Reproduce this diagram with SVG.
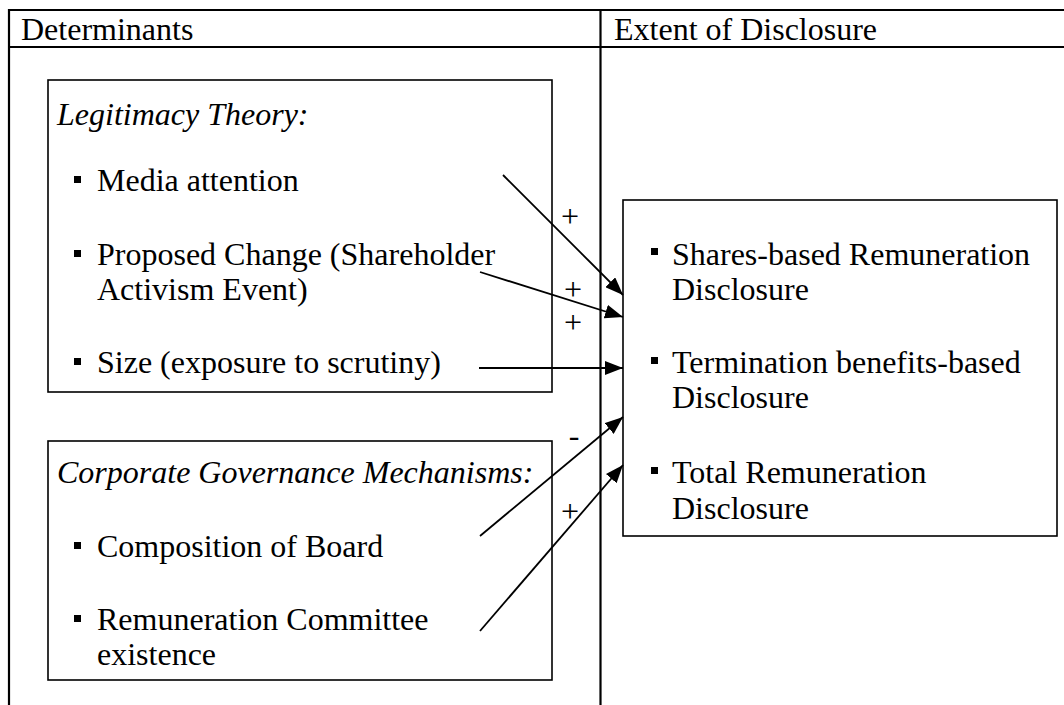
<svg xmlns="http://www.w3.org/2000/svg" width="1064" height="705" viewBox="0 0 1064 705">
  <style>
    .t { font-family: "Liberation Serif", "Times New Roman", serif; font-size: 32px; fill: #000; }
    .i { font-style: italic; }
    .sign { font-family: "Liberation Serif", "Times New Roman", serif; font-size: 32px; fill: #000; text-anchor: middle; }
    .grid { stroke: #000; stroke-width: 2.2; fill: none; }
    .box { stroke: #000; stroke-width: 1.6; fill: none; }
    .bullet { fill: #000; }
    .conn { stroke: #000; stroke-width: 1.8; fill: none; marker-end: url(#arrow); }
  </style>
  <defs>
    <marker id="arrow" markerUnits="userSpaceOnUse" markerWidth="19" markerHeight="14" refX="18" refY="7" orient="auto">
      <path d="M0,0 L18,7 L0,14 Z" fill="#000"/>
    </marker>
  </defs>

  <rect width="1064" height="705" fill="#fff"/>

  <!-- table frame -->
  <g id="table">
    <line class="grid" x1="8" y1="10" x2="1064" y2="10"/>
    <line class="grid" x1="8" y1="47" x2="1064" y2="47"/>
    <line class="grid" x1="9" y1="9" x2="9" y2="705"/>
    <line class="grid" x1="600.5" y1="9" x2="600.5" y2="705"/>
    <text class="t" x="21" y="40">Determinants</text>
    <text class="t" x="614" y="40">Extent of Disclosure</text>
  </g>

  <!-- legitimacy theory determinants -->
  <g id="legitimacy">
    <rect class="box" x="48" y="80" width="504" height="312"/>
    <text class="t i" x="57" y="125">Legitimacy Theory:</text>
    <rect class="bullet" x="74" y="176" width="7" height="7"/>
    <text class="t" x="97" y="191">Media attention</text>
    <rect class="bullet" x="74" y="250" width="7" height="7"/>
    <text class="t" x="97" y="265">Proposed Change (Shareholder</text>
    <text class="t" x="97" y="300">Activism Event)</text>
    <rect class="bullet" x="74" y="358" width="7" height="7"/>
    <text class="t" x="97" y="373">Size (exposure to scrutiny)</text>
  </g>

  <!-- corporate governance determinants -->
  <g id="governance">
    <rect class="box" x="48" y="441" width="504" height="239"/>
    <text class="t i" x="57" y="483">Corporate Governance Mechanisms:</text>
    <rect class="bullet" x="74" y="542" width="7" height="7"/>
    <text class="t" x="97" y="557">Composition of Board</text>
    <rect class="bullet" x="74" y="615" width="7" height="7"/>
    <text class="t" x="97" y="630">Remuneration Committee</text>
    <text class="t" x="97" y="665">existence</text>
  </g>

  <!-- disclosure outcomes -->
  <g id="disclosure">
    <rect class="box" x="623" y="200" width="434" height="336"/>
    <rect class="bullet" x="651" y="248" width="7" height="7"/>
    <text class="t" x="672" y="265">Shares-based Remuneration</text>
    <text class="t" x="672" y="300">Disclosure</text>
    <rect class="bullet" x="651" y="357" width="7" height="7"/>
    <text class="t" x="672" y="373">Termination benefits-based</text>
    <text class="t" x="672" y="408">Disclosure</text>
    <rect class="bullet" x="651" y="467" width="7" height="7"/>
    <text class="t" x="672" y="483">Total Remuneration</text>
    <text class="t" x="672" y="519">Disclosure</text>
  </g>

  <!-- connectors with expected signs -->
  <g id="connectors">
    <path class="conn" d="M503,175 L623,295"/>
    <path class="conn" d="M480,272 L623,317"/>
    <path class="conn" d="M479,368 L623,368"/>
    <path class="conn" d="M480,536 L623,417"/>
    <path class="conn" d="M480,631 L623,465"/>
    <text class="sign" x="570" y="227">+</text>
    <text class="sign" x="573" y="300">+</text>
    <text class="sign" x="573" y="333">+</text>
    <text class="sign" x="574" y="446">-</text>
    <text class="sign" x="570" y="522">+</text>
  </g>
</svg>
